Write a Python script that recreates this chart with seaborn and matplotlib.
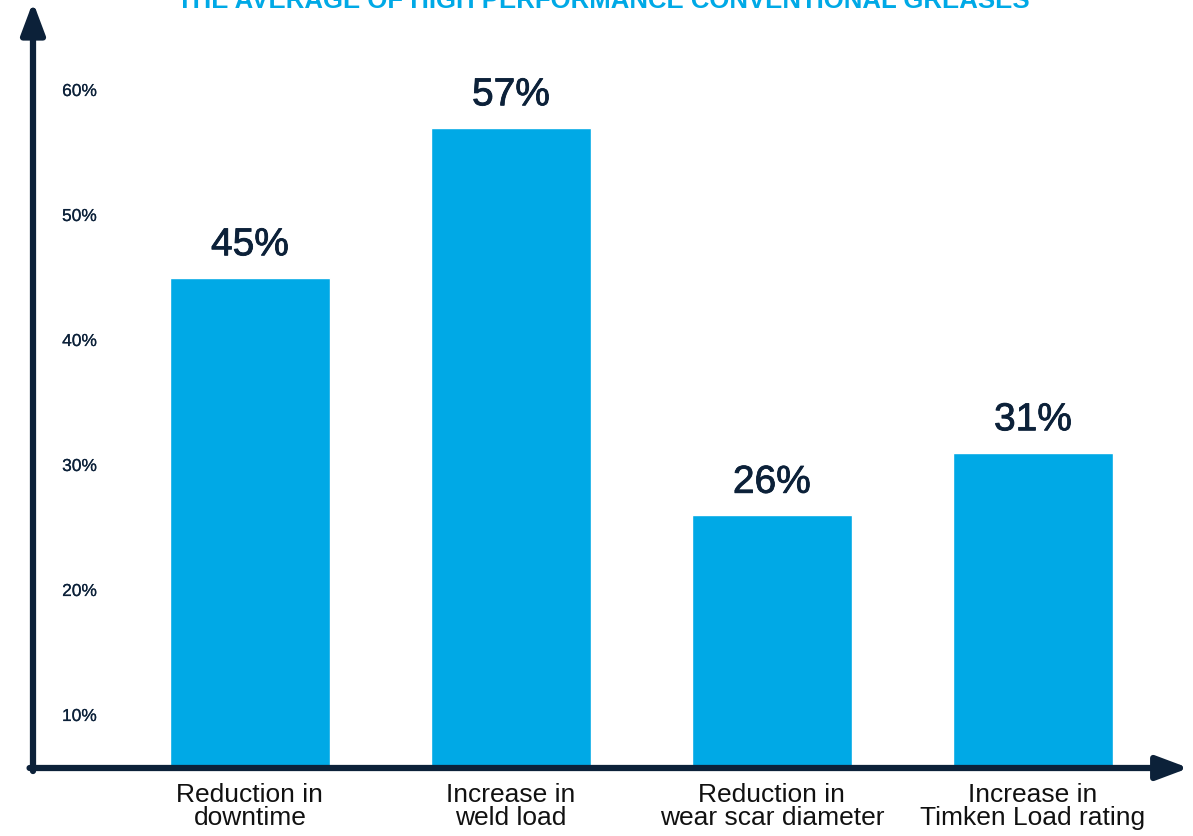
import matplotlib
matplotlib.use("Agg")
import matplotlib.pyplot as plt
import matplotlib.patheffects as pe
import seaborn as sns
import pandas as pd

categories = ["Reduction in\ndowntime", "Increase in\nweld load",
              "Reduction in\nwear scar diameter", "Increase in\nTimken Load rating"]
values = [45, 57, 26, 31]
value_labels = ["45%", "57%", "26%", "31%"]
tick_values = [10, 20, 30, 40, 50, 60]
tick_labels = ["10%", "20%", "30%", "40%", "50%", "60%"]
title = "THE AVERAGE OF HIGH PERFORMANCE CONVENTIONAL GREASES"

BLUE = "#00a9e6"
NAVY = "#0c2139"

sns.set_theme(style="white")
plt.rcParams["font.family"] = ["Liberation Sans", "DejaVu Sans"]

W, H = 1193, 836
fig = plt.figure(figsize=(W / 100, H / 100), dpi=100)
ax = fig.add_axes([33 / W, (H - 768) / H, (1183 - 33) / W, (768 - 8) / H])

df = pd.DataFrame({"cat": categories, "val": values})
sns.barplot(data=df, x="cat", y="val", color=BLUE, saturation=1, width=0.613, ax=ax)

ax.set_xlim(-0.831, 3.575)
ax.set_ylim(5.76, 66.56)
for s in ax.spines.values():
    s.set_visible(False)
ax.set_xlabel("")
ax.set_ylabel("")
ax.set_yticks(tick_values)
ax.set_yticklabels(tick_labels)
ax.tick_params(axis="y", length=0, pad=-46, labelsize=12.5, labelcolor=NAVY)
for lab in ax.get_yticklabels():
    lab.set_horizontalalignment("right")
    lab.set_path_effects([pe.withStroke(linewidth=0.15, foreground=NAVY)])
ax.tick_params(axis="x", length=0, pad=11, labelsize=19, labelcolor="#111111")
for lab in ax.get_xticklabels():
    lab.set_linespacing(0.95)

for p, lbl in zip(ax.patches, value_labels):
    t = ax.annotate(lbl, (p.get_x() + p.get_width() / 2, p.get_y() + p.get_height()),
                    xytext=(0, 16), textcoords="offset points", ha="center", va="baseline",
                    fontsize=28, color=NAVY)
    t.set_path_effects([pe.withStroke(linewidth=0.6, foreground=NAVY)])

# axis arrows
arrow = dict(arrowstyle="-|>,head_length=1.6,head_width=0.6", color=NAVY, lw=4.5,
             shrinkA=0, shrinkB=0)
ax.annotate("", xy=(0, 1.008), xytext=(0, -0.004), xycoords="axes fraction",
            arrowprops=arrow, annotation_clip=False)
ax.annotate("", xy=(1.005, 0), xytext=(-0.003, 0), xycoords="axes fraction",
            arrowprops=arrow, annotation_clip=False)

fig.text(603 / W, (H - 8) / H, title, ha="center", va="baseline",
         fontsize=18.5, fontweight="bold", color=BLUE)

fig.savefig("out.png", dpi=100)
